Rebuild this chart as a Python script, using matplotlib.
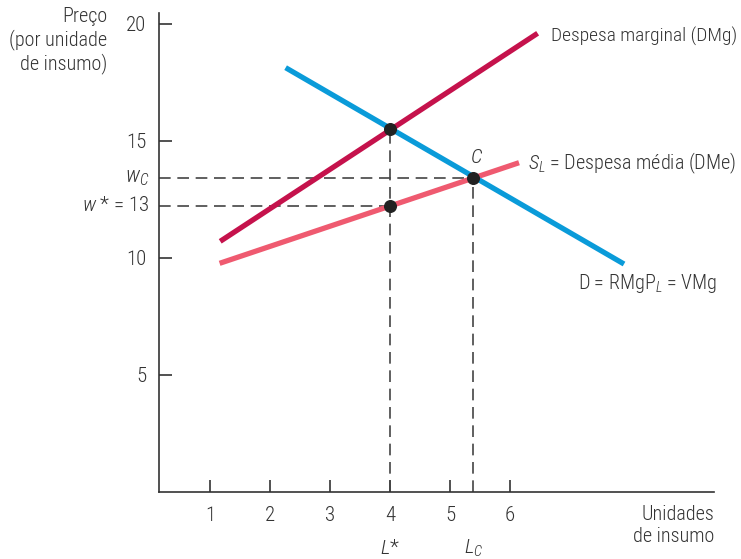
import matplotlib.pyplot as plt
from matplotlib.transforms import blended_transform_factory

# Line endpoints (x = units of input, y = price)
DMG_X = [1.17, 6.46]
DMG_Y = [10.71, 19.60]
D_X = [2.26, 7.90]
D_Y = [18.13, 9.74]
SL_X = [1.16, 6.15]
SL_Y = [9.77, 14.07]

# Marked points: DMg = D, w* on S_L, competitive point C
PT_X = [4.0, 4.0, 5.39]
PT_Y = [15.51, 12.24, 13.43]

W_STAR = 12.24
W_C = 13.43
L_STAR = 4.0
L_C = 5.39

X_TICKS = [1, 2, 3, 4, 5, 6]
Y_TICKS = [5, 10, 15, 20]

TXT = '#333333'
plt.rcParams['font.family'] = ['Roboto Condensed', 'Archivo Narrow',
                               'PT Sans Narrow', 'Liberation Sans', 'DejaVu Sans']
plt.rcParams['font.weight'] = 'light'
plt.rcParams['mathtext.fontset'] = 'custom'
plt.rcParams['mathtext.it'] = 'Roboto Condensed:italic:light'
plt.rcParams['mathtext.rm'] = 'Roboto Condensed:light'
plt.rcParams['font.size'] = 14

fig = plt.figure(figsize=(7.41, 5.59), dpi=100)
ax = fig.add_axes([0.2146, 0.1199, 0.749, 0.857])

# dashed guide lines
dash = dict(color='#444444', lw=1.2, dashes=(7, 4))
ax.plot([0.15, PT_X[2]], [W_C, W_C], **dash)
ax.plot([0.15, PT_X[1]], [W_STAR, W_STAR], **dash)
ax.plot([L_STAR, L_STAR], [0, PT_Y[0]], **dash)
ax.plot([L_C, L_C], [0, W_C], **dash)

# curves
ax.plot(SL_X, SL_Y, color='#ef5a70', lw=3.8, solid_capstyle='butt')
ax.plot(D_X, D_Y, color='#0a9bd9', lw=3.8, solid_capstyle='butt')
ax.plot(DMG_X, DMG_Y, color='#c5124c', lw=3.8, solid_capstyle='butt')
ax.scatter(PT_X, PT_Y, s=70, color='#222222', zorder=5)

ax.set_xlim(0.15, 9.4)
ax.set_ylim(0, 20.47)
ax.spines['top'].set_visible(False)
ax.spines['right'].set_visible(False)
for s in ['left', 'bottom']:
    ax.spines[s].set_color('#333333')
    ax.spines[s].set_linewidth(1.2)
ax.set_xticks(X_TICKS)
ax.set_yticks(Y_TICKS)
ax.tick_params(direction='in', length=9, width=1.2, colors='#333333',
               labelcolor=TXT, labelsize=15)
ax.tick_params(axis='x', pad=10)
ax.tick_params(axis='y', pad=9)

# extra y labels for w_C and w*
ytr = blended_transform_factory(ax.transAxes, ax.transData)
ax.text(-0.018, W_C, r'$\mathit{w}_{\mathit{C}}$', transform=ytr,
        ha='right', va='center', color=TXT, fontsize=16)
ax.text(-0.018, W_STAR, r'$\mathit{w}$ * = 13', transform=ytr,
        ha='right', va='center', color=TXT, fontsize=15)

# extra x labels L* and L_C
xtr = blended_transform_factory(ax.transData, ax.transAxes)
ax.text(L_STAR, -0.118, r'$\mathit{L}$*', transform=xtr,
        ha='center', va='center', color=TXT, fontsize=15)
ax.text(L_C, -0.118, r'$\mathit{L}_{\mathit{C}}$', transform=xtr,
        ha='center', va='center', color=TXT, fontsize=15)

# axis titles
ax.text(1.0, -0.07, 'Unidades\nde insumo', transform=ax.transAxes,
        ha='right', va='center', color=TXT, linespacing=1.2, fontsize=14.5)
fig.text(107 / 741, 1 - 7 / 559, 'Preço\n(por unidade\nde insumo)',
         ha='right', va='top', color=TXT, linespacing=1.2, fontsize=14.5)

# curve labels
ax.text(6.68, 19.45, 'Despesa marginal (DMg)', ha='left', va='center',
        color=TXT, fontsize=14)
ax.text(6.3, 14.05, r'$\mathit{S}_{\mathit{L}}$ = Despesa média (DMe)',
        ha='left', va='center', color=TXT, fontsize=14.5)
ax.text(5.45, 14.3, r'$\mathit{C}$', ha='center', va='center', color=TXT,
        fontsize=15)
ax.text(7.13, 8.9, r'D = RMgP$_{\mathit{L}}$ = VMg', ha='left', va='center',
        color=TXT, fontsize=14.5)

fig.savefig('out.png', dpi=100)
